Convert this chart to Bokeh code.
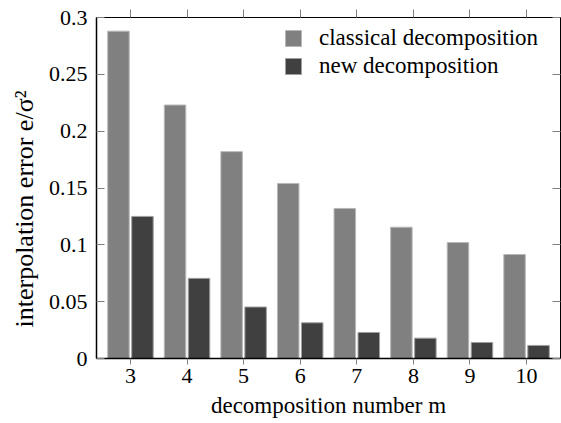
from bokeh.plotting import figure
from bokeh.models import (FixedTicker, LinearAxis, Range1d, Legend, LegendItem,
                          ColumnDataSource, CustomLabelingPolicy, Title)
from bokeh.embed import file_html
from bokeh.resources import INLINE

# data
m_values = [3, 4, 5, 6, 7, 8, 9, 10]
classical = [0.288, 0.223, 0.182, 0.154, 0.132, 0.1155, 0.102, 0.0915]
new = [0.125, 0.0705, 0.0453, 0.0314, 0.0229, 0.0179, 0.0141, 0.0115]
y_ticks = [0, 0.05, 0.1, 0.15, 0.2, 0.25, 0.3]
y_tick_labels = ["0", "0.05", "0.1", "0.15", "0.2", "0.25", "0.3"]
series_names = ["classical decomposition", "new decomposition"]
x_title = "decomposition number m"
y_title = "interpolation error e/σ²"

FONT = "Liberation Serif"
offset = 0.212
bar_w = 0.38

src = ColumnDataSource(dict(
    m=m_values,
    xc=[v - offset for v in m_values],
    xn=[v + offset for v in m_values],
    classical=classical,
    new=new,
))

p = figure(width=561, height=423, output_backend="svg", toolbar_location=None,
           x_range=Range1d(2.4, 10.6), y_range=Range1d(0, 0.3),
           min_border_left=96, min_border_right=1, min_border_top=17, min_border_bottom=65,
           x_axis_location="below", y_axis_location="left")
p.xgrid.visible = False
p.ygrid.visible = False
p.outline_line_color = "black"
p.outline_line_width = 1
p.background_fill_color = "white"
p.border_fill_color = "white"

r1 = p.vbar(x="xc", top="classical", width=bar_w, source=src,
            fill_color="#808080", line_color="#b8b8b8", line_width=1)
r2 = p.vbar(x="xn", top="new", width=bar_w, source=src,
            fill_color="#404040", line_color="#a0a0a0", line_width=1)

tick_color = "#808080"
hide_labels = CustomLabelingPolicy(code="""
for (let i = 0; i < indices.size; i++) { indices.unset(i) }
return indices
""")

xa = p.xaxis[0]
xa.ticker = FixedTicker(ticks=m_values)
xa.major_tick_in = 0
xa.major_tick_out = 6
xa.minor_tick_line_color = None
xa.major_tick_line_color = tick_color
xa.axis_line_color = "black"
xa.axis_line_width = 1.5
xa.major_label_text_font = FONT
xa.major_label_text_font_size = "22px"
xa.major_label_text_color = "black"
xa.major_label_standoff = 4
xa.axis_label = x_title
xa.axis_label_text_font = FONT
xa.axis_label_text_font_size = "23px"
xa.axis_label_text_font_style = "normal"
xa.axis_label_text_color = "black"
xa.axis_label_standoff = 7

ya = p.yaxis[0]
ya.ticker = FixedTicker(ticks=y_ticks)
ya.major_label_overrides = {t: l for t, l in zip(y_ticks, y_tick_labels)}
ya.major_tick_in = 8
ya.major_tick_out = 0
ya.minor_tick_line_color = None
ya.major_tick_line_color = tick_color
ya.axis_line_color = "black"
ya.axis_line_width = 1.5
ya.major_label_text_font = FONT
ya.major_label_text_font_size = "22px"
ya.major_label_text_color = "black"
ya.major_label_standoff = 9

ytitle = Title(text=y_title, align="left", offset=31, standoff=14,
               text_font=FONT, text_font_size="26px", text_font_style="normal",
               text_color="black")
p.add_layout(ytitle, "left")

top = LinearAxis(ticker=FixedTicker(ticks=m_values))
top.major_tick_in = 0
top.major_tick_out = 8
top.minor_tick_line_color = None
top.major_tick_line_color = tick_color
top.axis_line_color = "black"
top.major_label_text_font_size = "0px"
top.major_label_standoff = 0
top.major_label_policy = hide_labels
p.add_layout(top, "above")

right = LinearAxis(ticker=FixedTicker(ticks=y_ticks))
right.major_tick_in = 8
right.major_tick_out = 0
right.minor_tick_line_color = None
right.major_tick_line_color = tick_color
right.axis_line_color = None
right.major_label_text_font_size = "0px"
right.major_label_standoff = 0
right.major_label_policy = hide_labels
p.add_layout(right, "right")

legend = Legend(items=[LegendItem(label=series_names[0], renderers=[r1]),
                       LegendItem(label=series_names[1], renderers=[r2])],
                location=(187, 279))
legend.border_line_color = None
legend.background_fill_alpha = 0
legend.label_text_font = FONT
legend.label_text_font_size = "23px"
legend.label_text_color = "black"
legend.glyph_width = 20
legend.glyph_height = 20
legend.label_height = 26
legend.spacing = 2
legend.label_standoff = 16
legend.padding = 6
legend.margin = 0
p.add_layout(legend)

open("out.html", "w").write(file_html(p, INLINE))
